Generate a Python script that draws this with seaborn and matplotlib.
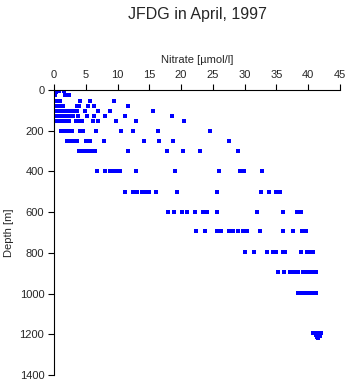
import matplotlib
matplotlib.use("Agg")
import matplotlib.pyplot as plt
import seaborn as sns
import pandas as pd

# ---- data ----
surf_depth   = [2, 4, 6, 8, 10, 12, 3, 5, 14]
surf_nitrate = [0.0, 0.2, 0.1, 0.3, 0.0, 0.2, 0.8, 1.5, 0.1]

row_depths = [25, 52, 77, 102, 127, 152, 202, 252, 302, 400, 500, 600,
              695, 795, 895, 995]
n_025 = [0.0, 0.2, 1.7, 2.3]
n_050 = [0.0, 0.4, 0.9, 4.1, 5.7, 9.4]
n_075 = [0.1, 0.5, 1.0, 1.4, 3.6, 3.9, 5.3, 6.3, 11.7]
n_100 = [0.2, 0.7, 1.2, 1.6, 2.1, 2.5, 3.1, 3.6, 4.9, 6.9, 8.8, 15.6]
n_125 = [0.2, 0.6, 1.1, 1.5, 2.0, 2.6, 3.0, 3.7, 5.2, 6.3, 8.1, 11.2, 18.5]
n_150 = [0.3, 0.8, 1.3, 1.8, 2.4, 3.5, 4.0, 4.4, 6.2, 7.0, 9.7, 12.9, 20.4]
n_200 = [1.1, 1.6, 2.1, 2.5, 2.8, 4.1, 4.6, 6.6, 10.5, 12.4, 16.4, 24.6]
n_250 = [2.0, 2.5, 3.0, 3.6, 5.1, 5.7, 7.9, 14.2, 16.5, 18.7, 27.6]
n_300 = [4.0, 4.5, 5.0, 5.5, 6.1, 6.5, 11.7, 17.8, 20.3, 23.0, 29.0]
n_400 = [6.8, 8.1, 8.8, 9.3, 9.8, 10.4, 12.9, 19.1, 26.0, 29.3, 29.9, 32.8]
n_500 = [11.2, 12.5, 13.1, 13.9, 14.4, 15.0, 16.0, 19.4, 25.6, 32.5, 33.9, 34.9, 35.6]
n_600 = [18.0, 18.9, 20.2, 20.9, 22.2, 23.4, 24.0, 25.7, 31.9, 36.1, 38.2, 38.9]
n_700 = [22.3, 23.8, 25.7, 26.2, 27.6, 28.2, 29.0, 29.8, 30.3, 32.4, 36.0, 37.6,
         39.0, 39.6]
n_800 = [30.0, 31.5, 33.5, 34.4, 35.0, 36.0, 36.4, 38.8, 39.8, 40.3, 40.8]
n_900 = [35.2, 36.2, 37.2, 37.8, 38.4, 39.1, 39.7, 40.3, 40.9, 41.2]
n_1000 = [38.4, 39.0, 39.6, 40.2, 40.7, 41.2]

deep_depth   = [1195, 1193, 1195, 1196, 1205, 1204, 1212, 1210, 1216]
deep_nitrate = [40.8, 41.2, 41.6, 42.0, 41.3, 41.8, 41.4, 41.9, 41.6]

x_ticks = [0, 5, 10, 15, 20, 25, 30, 35, 40, 45]
y_ticks = [0, 200, 400, 600, 800, 1000, 1200, 1400]

# ---- build table ----
row_values = [n_025, n_050, n_075, n_100, n_125, n_150, n_200, n_250, n_300,
              n_400, n_500, n_600, n_700, n_800, n_900, n_1000]
dep, nit = list(surf_depth), list(surf_nitrate)
for d, vals in zip(row_depths, row_values):
    dep += [d] * len(vals)
    nit += vals
dep += deep_depth
nit += deep_nitrate
df = pd.DataFrame({"Nitrate": nit, "Depth": dep})

# ---- plot ----
sns.set_style("ticks")
plt.rcParams["font.family"] = ["Liberation Sans", "DejaVu Sans"]

fig = plt.figure(figsize=(3.48, 3.84), dpi=100)
ax = fig.add_axes([54 / 348, 9 / 384, (340 - 54) / 348, (375 - 90) / 384])

sns.scatterplot(data=df, x="Nitrate", y="Depth", ax=ax, marker="s", s=6,
                color="#0000ff", linewidth=0)

ax.set_xlim(0, 45)
ax.set_ylim(1400, 0)
ax.set_xticks(x_ticks)
ax.set_yticks(y_ticks)
ax.xaxis.tick_top()
ax.xaxis.set_label_position("top")
ax.set_xlabel("Nitrate [µmol/l]", fontsize=8, labelpad=5)
ax.set_ylabel("Depth [m]", fontsize=8, labelpad=4)
ax.tick_params(axis="both", labelsize=8, length=4, width=0.8, color="black",
               direction="out", pad=3)
for side in ["right", "bottom"]:
    ax.spines[side].set_visible(False)
for side in ["left", "top"]:
    ax.spines[side].set_linewidth(0.8)
    ax.spines[side].set_color("black")

fig.text(197 / 348, 1 - 15 / 384, "JFDG in April, 1997", ha="center",
         va="center", fontsize=11.5)

fig.savefig("out.png", dpi=100, facecolor="white")
